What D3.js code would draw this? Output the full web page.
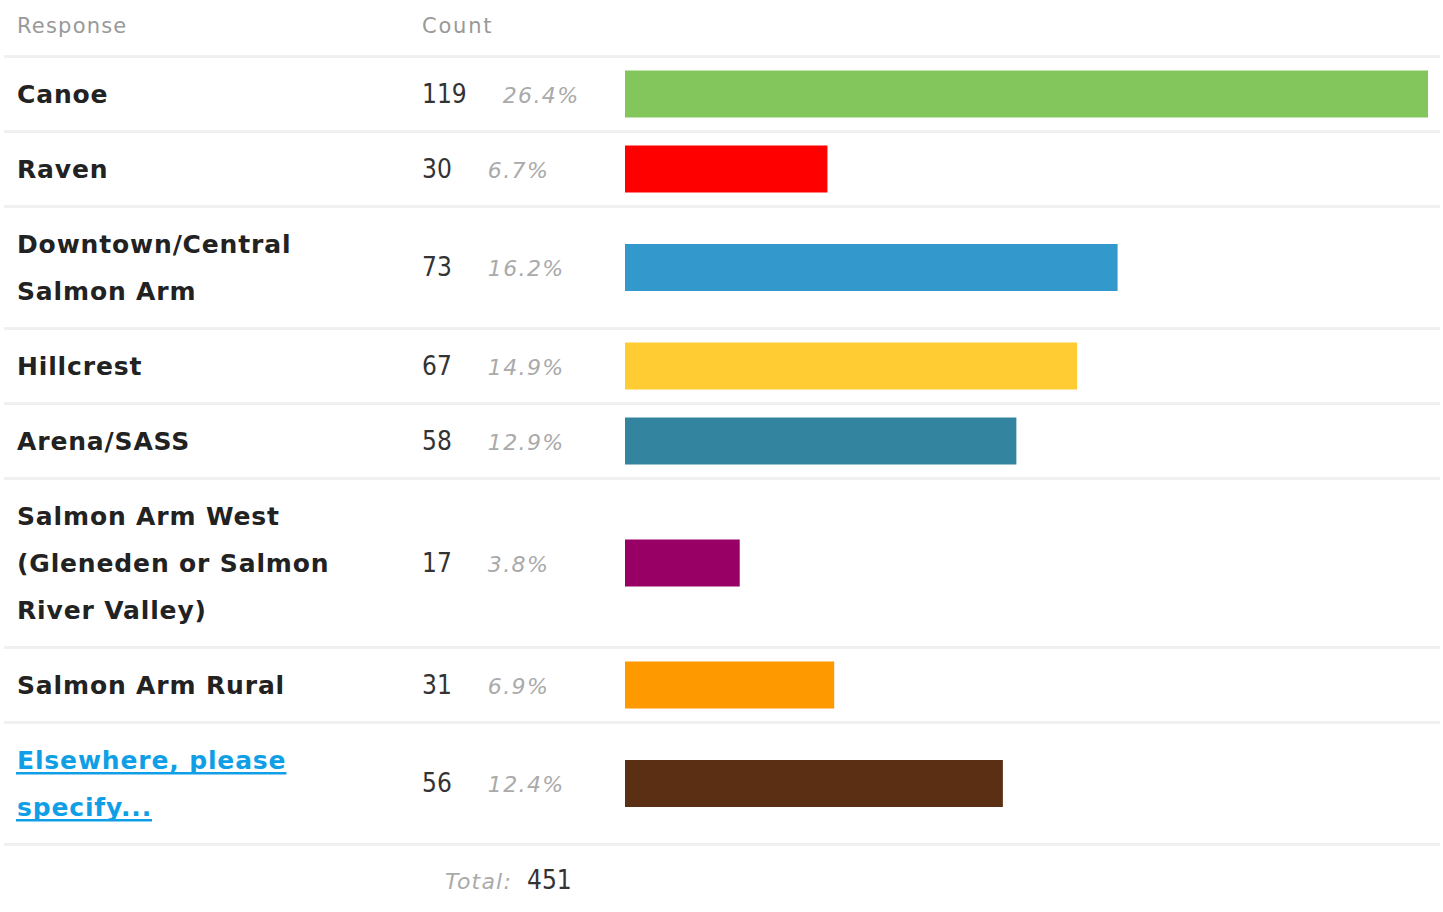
<!DOCTYPE html>
<html>
<head>
<meta charset="utf-8">
<script src="https://cdn.jsdelivr.net/npm/d3@7"></script>
<style>
  html, body { margin: 0; padding: 0; background: #fff; }
  svg { display: block; }
</style>
</head>
<body>
<svg id="chart" width="1443" height="912"></svg>
<script>
// ---- data ----
const headers = ["Response", "Count"];
const categories = [
  "Canoe",
  "Raven",
  "Downtown/Central Salmon Arm",
  "Hillcrest",
  "Arena/SASS",
  "Salmon Arm West (Gleneden or Salmon River Valley)",
  "Salmon Arm Rural",
  "Elsewhere, please specify..."
];
const counts = [119, 30, 73, 67, 58, 17, 31, 56];
const percents = ["26.4%", "6.7%", "16.2%", "14.9%", "12.9%", "3.8%", "6.9%", "12.4%"];
const colors = ["#83c65c", "#ff0000", "#3399cc", "#ffcc33", "#33849e", "#990066", "#ff9900", "#5b2f14"];
const isLink = [false, false, false, false, false, false, false, true];
const totalLabel = "Total:";
const totalValue = 451;

// ---- layout ----
const svg = d3.select("#chart");
const lineX0 = 4, lineX1 = 1440;
const sepH = 3;
const lineH = 47;
const pad = 12.5;
const labelX = 17;
const countX = 422;
const barX0 = 625, barX1 = 1428;
const wrapWidth = 355;
const labelFont = "'DejaVu Sans', sans-serif";

const x = d3.scaleLinear().domain([0, d3.max(counts)]).range([barX0, barX1]);

// header
svg.append("text").attr("x", labelX).attr("y", 33)
  .attr("font-family", labelFont).attr("font-size", 21).attr("letter-spacing", 1.2)
  .attr("fill", "#999").text(headers[0]);
svg.append("text").attr("x", countX).attr("y", 33)
  .attr("font-family", labelFont).attr("font-size", 21).attr("letter-spacing", 1.8)
  .attr("fill", "#999").text(headers[1]);

function sep(y) {
  svg.append("rect").attr("x", lineX0).attr("y", y).attr("width", lineX1 - lineX0)
    .attr("height", sepH).attr("fill", "#f0f0f0");
}

const labelLS = 0.85;
// measure helper
const meas = svg.append("text").attr("font-family", labelFont).attr("font-size", 25)
  .attr("font-weight", "bold").attr("letter-spacing", labelLS).attr("visibility", "hidden");
function wrap(str) {
  const words = str.split(" ");
  const lines = [];
  let cur = "";
  words.forEach(w => {
    const test = cur ? cur + " " + w : w;
    meas.text(test);
    if (meas.node().getComputedTextLength() > wrapWidth && cur) {
      lines.push(cur);
      cur = w;
    } else cur = test;
  });
  if (cur) lines.push(cur);
  return lines;
}

let y = 55;
sep(y);
y += sepH;

const rows = svg.append("g");
categories.forEach((cat, i) => {
  const lines = wrap(cat);
  const rowH = lines.length * lineH + 2 * pad;
  const top = y;
  const center = top + rowH / 2;
  const g = rows.append("g");
  const col = isLink[i] ? "#109fe6" : "#222";
  lines.forEach((ln, j) => {
    const cy = top + pad + lineH / 2 + j * lineH;
    const t = g.append("text").attr("x", labelX).attr("y", cy + 8.5)
      .attr("font-family", labelFont).attr("font-size", 25).attr("font-weight", "bold")
      .attr("letter-spacing", labelLS).attr("fill", col).text(ln);
    if (isLink[i]) {
      const w = t.node().getComputedTextLength();
      g.append("rect").attr("x", labelX - 1).attr("y", cy + 12).attr("width", w + 1)
        .attr("height", 2.5).attr("fill", col);
    }
  });
  const num = g.append("text").attr("x", countX).attr("y", center + 8.5)
    .attr("font-family", "'DejaVu Sans Condensed', 'DejaVu Sans', sans-serif")
    .attr("font-stretch", "condensed").attr("font-size", 26).attr("fill", "#333")
    .text(counts[i]);
  const nw = num.node().getComputedTextLength();
  g.append("text").attr("x", countX + nw + 36).attr("y", center + 8.5)
    .attr("font-family", labelFont).attr("font-style", "italic").attr("font-size", 22)
    .attr("letter-spacing", 1.4).attr("fill", "#aaa").text(percents[i]);
  g.append("rect").attr("x", x(0)).attr("y", center - 23.5)
    .attr("width", x(counts[i]) - x(0)).attr("height", 47).attr("fill", colors[i]);
  y += rowH;
  sep(y);
  y += sepH;
});
meas.remove();

// total
svg.append("text").attr("x", 512).attr("y", y + 43).attr("text-anchor", "end")
  .attr("font-family", labelFont).attr("font-style", "italic").attr("font-size", 22)
  .attr("letter-spacing", 1.2).attr("fill", "#aaa").text(totalLabel);
svg.append("text").attr("x", 527).attr("y", y + 43)
  .attr("font-family", "'DejaVu Sans Condensed', 'DejaVu Sans', sans-serif")
  .attr("font-stretch", "condensed").attr("font-size", 26).attr("fill", "#333")
  .text(totalValue);
</script>
</body>
</html>
